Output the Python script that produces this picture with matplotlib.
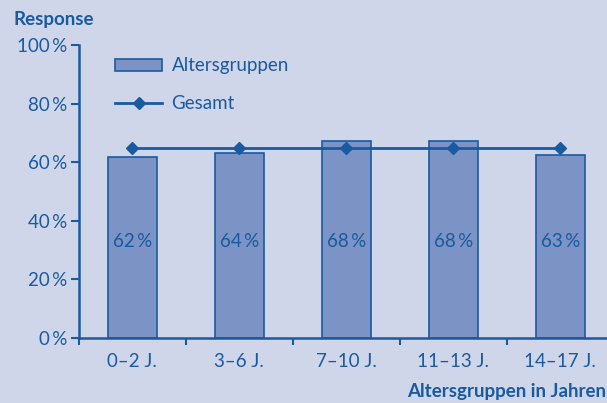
import matplotlib.pyplot as plt
import numpy as np

# data
groups = ["0–2 J.", "3–6 J.", "7–10 J.", "11–13 J.", "14–17 J."]
response = [61.8, 63.2, 67.2, 67.2, 62.6]
response_labels = ["62\u2009%", "64\u2009%", "68\u2009%", "68\u2009%", "63\u2009%"]
overall = [65, 65, 65, 65, 65]
yticks = [0, 20, 40, 60, 80, 100]

BG = "#d0d6ea"
BLUE = "#1a5aa0"
BAR = "#7b93c5"
FS = 13.5

plt.rcParams["font.family"] = ["Lato", "DejaVu Sans"]

fig = plt.figure(figsize=(6.07, 4.03), dpi=100, facecolor=BG)
W, H = 607, 403
x0, x1 = 78.7, 78.7 + 5 * 107
y0, y1 = 338, 45
ax = fig.add_axes([x0 / W, 1 - y0 / H, (x1 - x0) / W, (y0 - y1) / H])
ax.set_facecolor(BG)

x = np.arange(len(groups))
bars = ax.bar(x, response, width=0.455, color=BAR, edgecolor=BLUE, linewidth=1.2,
              label="Altersgruppen", zorder=2)
line, = ax.plot(x, overall, color=BLUE, linewidth=2, marker="D", markersize=6,
                label="Gesamt", zorder=3)

for xi, lab in zip(x, response_labels):
    ax.text(xi, 33, lab, ha="center", va="center", color=BLUE, fontsize=FS, zorder=4)

ax.set_xlim(-0.5, len(groups) - 0.5)
ax.set_ylim(0, 100)
ax.set_yticks(yticks)
ax.set_yticklabels([f"{v}\u2009%" for v in yticks])
ax.set_xticks(np.arange(-0.5, len(groups), 1.0))
ax.set_xticklabels([])
ax.set_xticks(x, minor=True)
ax.set_xticklabels(groups, minor=True)
ax.tick_params(axis="x", which="minor", length=0, pad=11, labelsize=FS, labelcolor=BLUE)
ax.tick_params(axis="x", which="major", length=5, width=1.5, color=BLUE, direction="out")
ax.tick_params(axis="y", length=6, width=1.5, color=BLUE, labelsize=FS,
               labelcolor=BLUE, pad=2)
for side in ["top", "right"]:
    ax.spines[side].set_visible(False)
for side in ["left", "bottom"]:
    ax.spines[side].set_color(BLUE)
    ax.spines[side].set_linewidth(1.8)
ax.spines["left"].set_bounds(0, 100)

ax.legend([bars, line], ["Altersgruppen", "Gesamt"], loc="upper left",
          bbox_to_anchor=(0.037, 1.015), frameon=False, fontsize=FS, labelcolor=BLUE,
          handlelength=2.5, handleheight=0.6, labelspacing=1.1, handletextpad=0.5)

fig.text(13 / W, 1 - 20 / H, "Response", ha="left", va="center", color=BLUE,
         fontsize=FS, fontweight="bold")
fig.text(606 / W, 1 - 392 / H, "Altersgruppen in Jahren", ha="right", va="center",
         color=BLUE, fontsize=FS, fontweight="bold")

fig.savefig("out.png", dpi=100, facecolor=BG)
